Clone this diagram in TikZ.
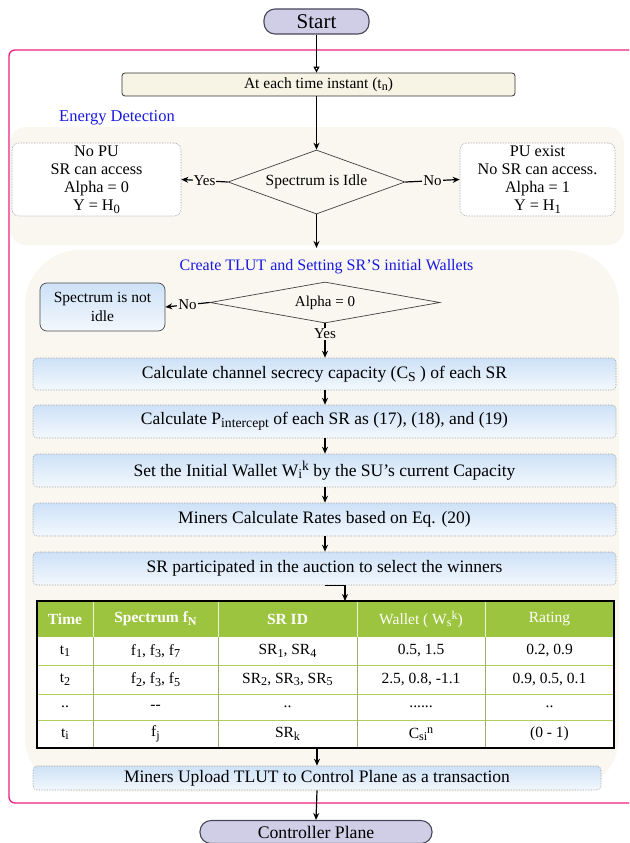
\documentclass[tikz,border=0pt]{standalone}
\usepackage{fontspec}
\usepackage{graphicx}
\setmainfont{Liberation Serif}
\usetikzlibrary{shapes.geometric,arrows.meta,calc}
\definecolor{pinkline}{RGB}{238,30,128}
\definecolor{bgfill}{RGB}{249,247,239}
\definecolor{lavender}{RGB}{208,206,230}
\definecolor{pillline}{RGB}{70,70,90}
\definecolor{bluetxt}{RGB}{25,25,225}
\definecolor{boxtop}{RGB}{205,225,247}
\definecolor{boxbot}{RGB}{243,248,253}
\definecolor{tgreen}{RGB}{156,196,62}
\definecolor{tline}{RGB}{175,208,90}
\definecolor{dotline}{RGB}{150,150,150}
\definecolor{instfill}{RGB}{247,244,230}
\newcommand{\sbs}[1]{\raisebox{-0.35ex}{\scalebox{0.78}{#1}}}
\newcommand{\sps}[1]{\raisebox{0.7ex}{\scalebox{0.78}{#1}}}
\tikzset{
  pill/.style={draw=pillline, line width=1.1pt, fill=lavender, rounded corners=11pt, inner sep=0pt},
  flowbox/.style={draw=dotline, densely dotted, line width=0.6pt, rounded corners=4pt, top color=boxtop, bottom color=boxbot, inner sep=0pt, font=\fontsize{17.5}{20}\selectfont},
  notebox/.style={draw=dotline, densely dotted, line width=0.6pt, rounded corners=7pt, fill=white, inner sep=0pt, align=center, font=\fontsize{16.2}{18}\selectfont},
  dec/.style={diamond, draw=black!75, line width=0.7pt, fill=bgfill, inner sep=0pt},
  arr/.style={draw=black, line width=1.2pt, -{Stealth[length=7pt,width=6pt]}},
  lbl/.style={fill=bgfill, inner sep=1pt, font=\fontsize{15}{17}\selectfont},
  cell/.style={inner sep=0pt, font=\fontsize{15.5}{17}\selectfont},
  hcell/.style={inner sep=0pt, text=white, font=\fontsize{15.5}{17}\selectfont},
}
\begin{document}
\begin{tikzpicture}[x=1pt,y=-1pt]
\useasboundingbox (0,0) rectangle (629,843);
\clip (0,0) rectangle (629,843);
% background regions
\fill[bgfill, rounded corners=16pt] (10,127) rectangle (624,245);
\fill[bgfill, rounded corners=55pt] (25,250) rectangle (619,792);
% pink frame
\draw[pinkline, line width=1.3pt, rounded corners=6pt] (640,50) -- (9,50) -- (9,803) -- (640,803);

% start
\node[pill, minimum width=105pt, minimum height=25pt, font=\fontsize{21}{24}\selectfont] (start) at (316.5,21.5) {Start};
% time instant
\node[draw=black!80, line width=0.8pt, fill=instfill, rounded corners=3pt, minimum width=393pt, minimum height=23pt, inner sep=0pt, font=\fontsize{15.5}{17}\selectfont] (inst) at (318.5,84.5) {At each time instant (t\sbs{n})};
\draw[draw=black, line width=1.2pt, -{Triangle[open,length=6pt,width=6pt]}] (start.south) -- (start.south |- inst.north);

\node[text=bluetxt, inner sep=0pt, font=\fontsize{16.5}{19}\selectfont] (ed) at (117,118) {Energy Detection};

% energy detection decision
\node[dec, aspect=2.77, minimum width=177pt, minimum height=64pt, font=\fontsize{15.5}{18}\selectfont] (d1) at (316.5,182) {Spectrum is Idle};
\draw[arr] (inst.south -| d1.north) -- (d1.north);
\node[notebox, minimum width=169pt, minimum height=73pt] (lb) at (96.5,179.5) {No PU\\SR can access\\Alpha = 0\\Y = H\sbs{0}};
\node[notebox, minimum width=155pt, minimum height=73pt] (rb) at (537.5,179.5) {PU exist\\No SR can access.\\Alpha = 1\\Y = H\sbs{1}};
\draw[arr] (d1.west) -- node[lbl]{Yes} (lb.east);
\draw[arr] (d1.east) -- node[lbl]{No} (rb.west);

\node[text=bluetxt, inner sep=0pt, font=\fontsize{16}{19}\selectfont] (ct) at (326.5,267) {Create TLUT and Setting SR’S initial Wallets};
\coordinate (ctop) at (316.5,248);
\draw[arr] (d1.south) -- (ctop);

% alpha decision
\node[dec, aspect=5.6, minimum width=230pt, minimum height=41pt, font=\fontsize{15}{18}\selectfont] (d2) at (325,302.5) {Alpha = 0};
\node[draw=black!70, line width=0.7pt, rounded corners=7pt, top color=boxtop, bottom color=boxbot, minimum width=125pt, minimum height=48pt, inner sep=0pt, align=center, font=\fontsize{15.5}{18.5}\selectfont] (ni) at (102.5,307) {Spectrum is not\\idle};
\draw[arr] (d2.west) -- node[lbl]{No} (ni.east);

% process boxes
\node[flowbox, minimum width=583pt, minimum height=32pt] (b1) at (324.5,374) {Calculate channel secrecy capacity (C\sbs{S} ) of each SR};
\node[flowbox, minimum width=583pt, minimum height=33pt] (b2) at (324.5,421.5) {Calculate P\sbs{intercept} of each SR as (17), (18), and (19)};
\node[flowbox, minimum width=583pt, minimum height=33pt] (b3) at (324.5,470.5) {Set the Initial Wallet W\sbs{i}\sps{k} by the SU’s current Capacity};
\node[flowbox, minimum width=583pt, minimum height=33pt] (b4) at (324.5,519.5) {Miners Calculate Rates based on Eq. (20)};
\node[flowbox, minimum width=583pt, minimum height=33pt] (b5) at (324.5,568.5) {SR participated in the auction to select the winners};

\draw[arr] (d2.south) -- node[lbl, pos=0.3]{Yes} (d2.south |- b1.north);
\draw[arr] (b1.south -| d2.south) -- (b2.north -| d2.south);
\draw[arr] (b2.south -| d2.south) -- (b3.north -| d2.south);
\draw[arr] (b3.south -| d2.south) -- (b4.north -| d2.south);
\draw[arr] (b4.south -| d2.south) -- (b5.north -| d2.south);

% table
\fill[tgreen] (37,601) rectangle (614,637);
\fill[white] (37,637) rectangle (614,748);
\foreach \yy in {665,694,720} \draw[tline, line width=0.8pt] (37,\yy) -- (614,\yy);
\foreach \xx in {93,218,357,485} {
  \draw[white!80!tgreen, line width=0.7pt] (\xx,601) -- (\xx,637);
  \draw[tline!60!gray, line width=0.6pt] (\xx,637) -- (\xx,748);
}
\node[draw=black, line width=1.8pt, minimum width=577pt, minimum height=147pt, inner sep=0pt] (tbl) at (325.5,674.5) {};
\coordinate (tin) at (345,601);
\draw[arr] (b5.south) -| (tin);

\node[hcell] (h1) at (65,619) {\textbf{Time}};
\node[hcell] (h2) at (155.5,619) {\textbf{Spectrum f\sbs{N}}};
\node[hcell] (h3) at (287.5,619) {\textbf{SR ID}};
\node[hcell] (h4) at (421,619) {Wallet ( W\sbs{s}\sps{k})};
\node[hcell] (h5) at (549.5,619) {Rating};

\node[cell] at (65,651) {t\sbs{1}};
\node[cell] at (155.5,651) {f\sbs{1}, f\sbs{3}, f\sbs{7}};
\node[cell] at (287.5,651) {SR\sbs{1}, SR\sbs{4}};
\node[cell] at (421,651) {0.5, 1.5};
\node[cell] at (549.5,651) {0.2, 0.9};

\node[cell] at (65,679.5) {t\sbs{2}};
\node[cell] at (155.5,679.5) {f\sbs{2}, f\sbs{3}, f\sbs{5}};
\node[cell] at (287.5,679.5) {SR\sbs{2}, SR\sbs{3}, SR\sbs{5}};
\node[cell] at (421,679.5) {2.5, 0.8, -1.1};
\node[cell] at (549.5,679.5) {0.9, 0.5, 0.1};

\node[cell] at (65,707) {..};
\node[cell] at (155.5,707) {{-}{-}};
\node[cell] at (287.5,707) {..};
\node[cell] at (421,707) {......};
\node[cell] at (549.5,707) {..};

\node[cell] at (65,734) {t\sbs{i}};
\node[cell] at (155.5,734) {f\sbs{j}};
\node[cell] at (287.5,734) {SR\sbs{k}};
\node[cell] at (421,734) {C\sbs{si}\sps{n}};
\node[cell] at (549.5,734) {(0 - 1)};

% upload box
\node[flowbox, minimum width=568pt, minimum height=24pt] (b6) at (317,778) {Miners Upload TLUT to Control Plane as a transaction};
\draw[arr] (b6.north |- tbl.south) -- (b6.north);

% controller plane
\node[pill, minimum width=232pt, minimum height=23pt, font=\fontsize{17.7}{20}\selectfont] (cp) at (316,832) {Controller Plane};
\draw[arr] (b6.south) -- (cp.north);
\end{tikzpicture}
\end{document}
